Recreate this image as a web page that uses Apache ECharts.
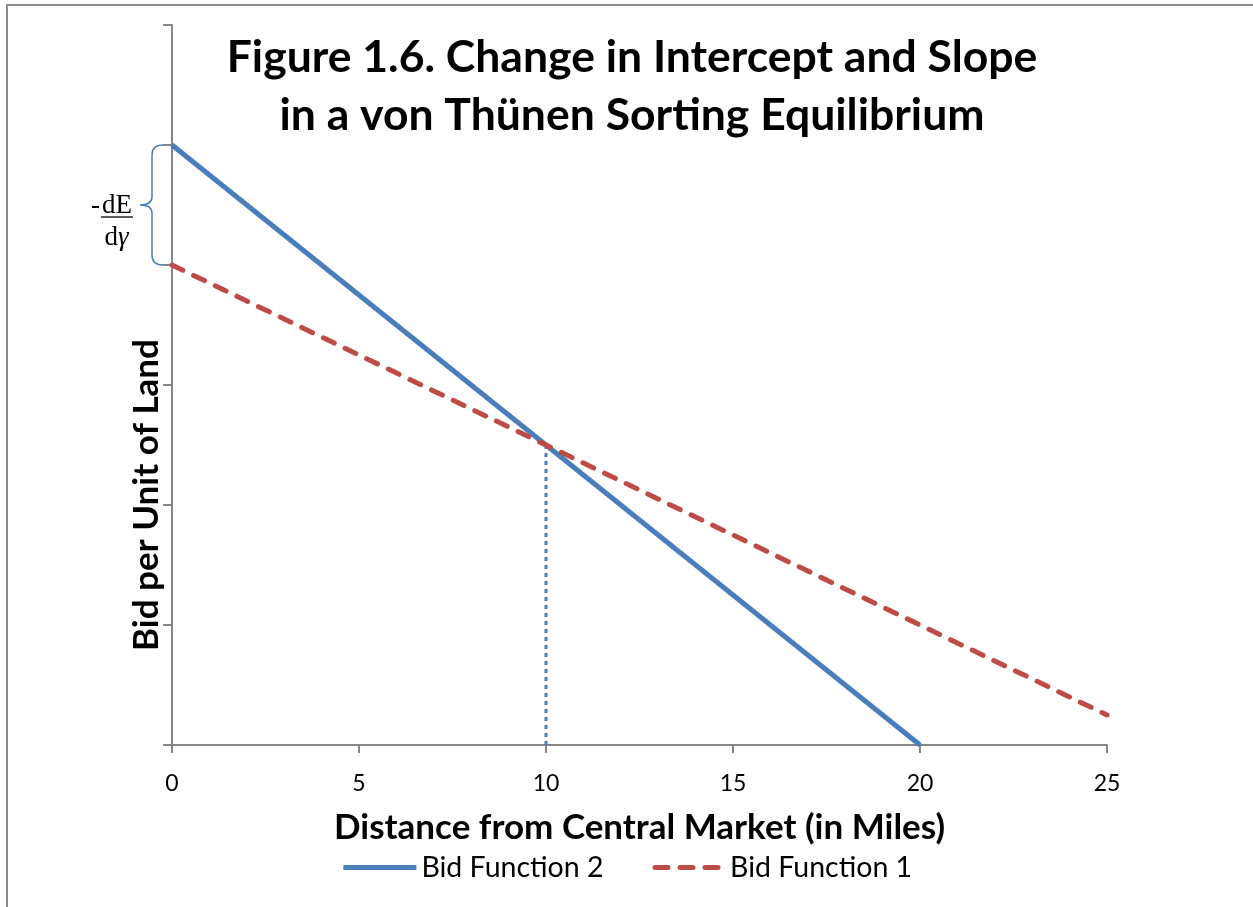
<!DOCTYPE html>
<html>
<head>
<meta charset="utf-8">
<title>Figure 1.6</title>
<script src="https://cdn.jsdelivr.net/npm/echarts@6/dist/echarts.min.js"></script>
<style>
  html, body { margin: 0; padding: 0; background: #ffffff; }
  #chart { width: 1253px; height: 907px; }
</style>
</head>
<body>
<div id="chart"></div>
<script>
// Distance ticks (miles) and the two bid functions
const xTicks = [0, 5, 10, 15, 20, 25];
const bidFunction2 = [[0, 5], [20, 0]];      // steeper, higher intercept
const bidFunction1 = [[0, 4], [25, 0.25]];   // flatter, lower intercept
const crossing = [[10, 0], [10, 2.5]];       // where the two bids meet
const interceptGap = [[0, 5, 4]];            // x, upper intercept, lower intercept

const FONT = 'Lato, "Open Sans", sans-serif';
const SERIF = '"Liberation Serif", "DejaVu Serif", serif';
const AXIS_GRAY = '#868686';
const BLUE = '#4A7EBB';
const RED = '#BE4B48';

const chart = echarts.init(document.getElementById('chart'), null, { renderer: 'canvas' });

chart.setOption({
  backgroundColor: '#ffffff',
  animation: false,
  title: {
    text: 'Figure 1.6. Change in Intercept and Slope\nin a von Thünen Sorting Equilibrium',
    left: 627,
    textAlign: 'center',
    top: 24,
    textStyle: {
      fontFamily: FONT,
      fontWeight: 'bold',
      fontSize: 44.5,
      lineHeight: 58,
      color: '#000000'
    }
  },
  legend: {
    bottom: 20,
    left: 'center',
    itemWidth: 73,
    itemHeight: 10,
    itemGap: 46,
    itemStyle: { opacity: 0 },
    lineStyle: { width: 5 },
    textStyle: { fontFamily: FONT, fontSize: 28.5, color: '#000000' },
    data: [
      { name: 'Bid Function 2' },
      { name: 'Bid Function 1', lineStyle: { type: [13, 12], cap: 'round', dashOffset: -3 } }
    ]
  },
  grid: { left: 172, right: 146, top: 25, bottom: 162 },
  xAxis: {
    type: 'value',
    min: 0,
    max: 25,
    interval: 5,
    name: 'Distance from Central Market (in Miles)',
    nameLocation: 'middle',
    nameGap: 65,
    nameTextStyle: { fontFamily: FONT, fontWeight: 'bold', fontSize: 35, color: '#000000' },
    axisLine: { lineStyle: { color: AXIS_GRAY, width: 2 } },
    axisTick: { show: true, length: 8, lineStyle: { color: AXIS_GRAY, width: 2 } },
    axisLabel: {
      fontFamily: FONT, fontSize: 23, color: '#000000', margin: 27,
      formatter: v => (xTicks.indexOf(v) >= 0 ? String(v) : '')
    },
    splitLine: { show: false }
  },
  yAxis: {
    type: 'value',
    min: 0,
    max: 6,
    interval: 1,
    axisLine: { show: true, lineStyle: { color: AXIS_GRAY, width: 2 } },
    axisTick: { show: true, length: 9, lineStyle: { color: AXIS_GRAY, width: 2 } },
    axisLabel: { show: false },
    splitLine: { show: false }
  },
  graphic: [
    {
      type: 'rect',
      shape: { x: 7, y: 5, width: 1400, height: 1000 },
      style: { fill: 'none', stroke: '#8c8c8c', lineWidth: 2 },
      silent: true
    },
    {
      type: 'text',
      x: 147,
      y: 495,
      rotation: Math.PI / 2,
      style: {
        text: 'Bid per Unit of Land',
        fontFamily: FONT,
        fontWeight: 'bold',
        fontSize: 35,
        fill: '#000000',
        align: 'center',
        verticalAlign: 'middle'
      }
    }
  ],
  series: [
    {
      name: 'Bid Function 2',
      type: 'line',
      data: bidFunction2,
      showSymbol: false,
      symbol: 'none',
      color: BLUE,
      lineStyle: { color: BLUE, width: 5 },
      z: 3
    },
    {
      name: 'Bid Function 1',
      type: 'line',
      data: bidFunction1,
      showSymbol: false,
      symbol: 'none',
      color: RED,
      lineStyle: { color: RED, width: 5, type: [12, 12], cap: 'round' },
      z: 4
    },
    {
      name: 'crossing',
      type: 'line',
      data: crossing,
      showSymbol: false,
      symbol: 'none',
      lineStyle: { color: BLUE, width: 3, type: [4, 4] },
      z: 2
    },
    {
      name: 'intercept gap',
      type: 'custom',
      clip: false,
      silent: true,
      data: interceptGap,
      renderItem: function (params, api) {
        const top = api.coord([api.value(0), api.value(1)]);
        const bot = api.coord([api.value(0), api.value(2)]);
        const xr = top[0] - 9;      // where the brace meets the tick marks
        const xv = xr - 11;         // vertical spine of the brace
        const xm = xv - 12;         // point of the brace
        const ym = (top[1] + bot[1]) / 2;
        const path =
          'M' + xr + ' ' + top[1] +
          ' Q' + xv + ' ' + top[1] + ' ' + xv + ' ' + (top[1] + 10) +
          ' L' + xv + ' ' + (ym - 8) +
          ' Q' + xv + ' ' + ym + ' ' + xm + ' ' + ym +
          ' Q' + xv + ' ' + ym + ' ' + xv + ' ' + (ym + 8) +
          ' L' + xv + ' ' + (bot[1] - 10) +
          ' Q' + xv + ' ' + bot[1] + ' ' + xr + ' ' + bot[1];
        const cx = xm - 23;          // centre of the fraction
        const txt = (s, x, y, align, italic) => ({
          type: 'text',
          x: x,
          y: y,
          style: {
            legacy: false,
            text: s,
            font: (italic ? 'italic ' : '') + '27px ' + SERIF,
            fontFamily: SERIF,
            fontSize: 27,
            fontStyle: italic ? 'italic' : 'normal',
            fill: '#000000',
            align: align,
            verticalAlign: 'middle'
          }
        });
        return {
          type: 'group',
          children: [
            {
              type: 'path',
              shape: { pathData: path },
              style: { fill: 'none', stroke: BLUE, lineWidth: 1.5 }
            },
            txt('-', cx - 17, ym + 1, 'right', false),
            txt('dE', cx, ym + 1, 'center', false),
            {
              type: 'line',
              shape: { x1: cx - 16, y1: ym + 12, x2: cx + 16, y2: ym + 12 },
              style: { stroke: '#000000', lineWidth: 1.3 }
            },
            txt('d', cx + 1, ym + 33, 'right', false),
            txt('γ', cx + 1, ym + 33, 'left', true)
          ]
        };
      },
      z: 5
    }
  ]
});
</script>
</body>
</html>
